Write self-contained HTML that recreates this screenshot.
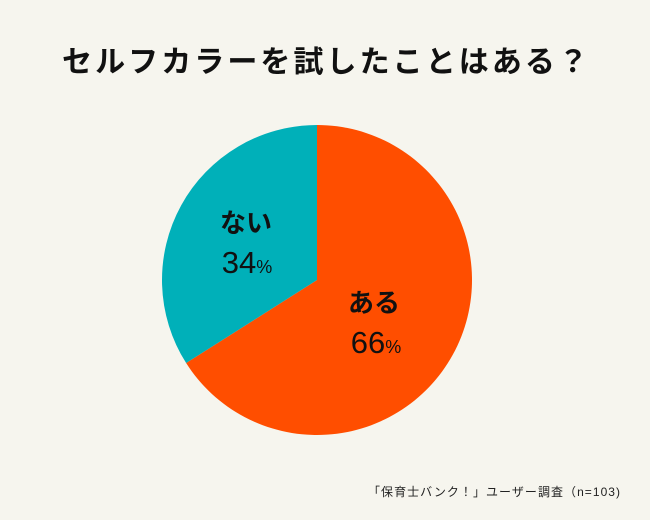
<!DOCTYPE html>
<html><head><meta charset="utf-8"><style>
body{margin:0;background:#f6f5ee;}
svg{display:block;font-family:"Liberation Sans","Noto Sans CJK JP",sans-serif;}
</style></head><body>
<svg width="650" height="520">
<rect width="650" height="520" fill="#f6f5ee"/>
<text x="325" y="72" text-anchor="middle" font-size="30" font-weight="bold" fill="#111" textLength="526" lengthAdjust="spacing">セルフカラーを試したことはある？</text>
<g id="slices"></g>
<text x="246" y="232" text-anchor="middle" font-size="26" font-weight="bold" fill="#111">ない</text>
<text x="247" y="273" text-anchor="middle" font-size="31" fill="#111">34<tspan font-size="18">%</tspan></text>
<text x="374" y="312" text-anchor="middle" font-size="26" font-weight="bold" fill="#111">ある</text>
<text x="376" y="353" text-anchor="middle" font-size="31" fill="#111">66<tspan font-size="18">%</tspan></text>
<text x="620" y="496" text-anchor="end" font-size="12" fill="#222" textLength="252" lengthAdjust="spacing">「保育士バンク！」ユーザー調査（n=103)</text>
</svg>
<script>
const categories=["ある","ない"];
const values=[66,34];
const colors=["#ff4e00","#00b0b9"];
const cx=317,cy=280,r=155;
const g=document.getElementById('slices');
const total=values.reduce((a,b)=>a+b,0);
let a0=0;
values.forEach((v,i)=>{
  const a1=a0+v/total*2*Math.PI;
  const x0=cx+r*Math.sin(a0),y0=cy-r*Math.cos(a0);
  const x1=cx+r*Math.sin(a1),y1=cy-r*Math.cos(a1);
  const large=(a1-a0)>Math.PI?1:0;
  const p=document.createElementNS('http://www.w3.org/2000/svg','path');
  p.setAttribute('d',`M${cx},${cy}L${x0},${y0}A${r},${r} 0 ${large} 1 ${x1},${y1}Z`);
  p.setAttribute('fill',colors[i]);
  
  
  g.appendChild(p);
  a0=a1;
});
</script>
</body></html>
